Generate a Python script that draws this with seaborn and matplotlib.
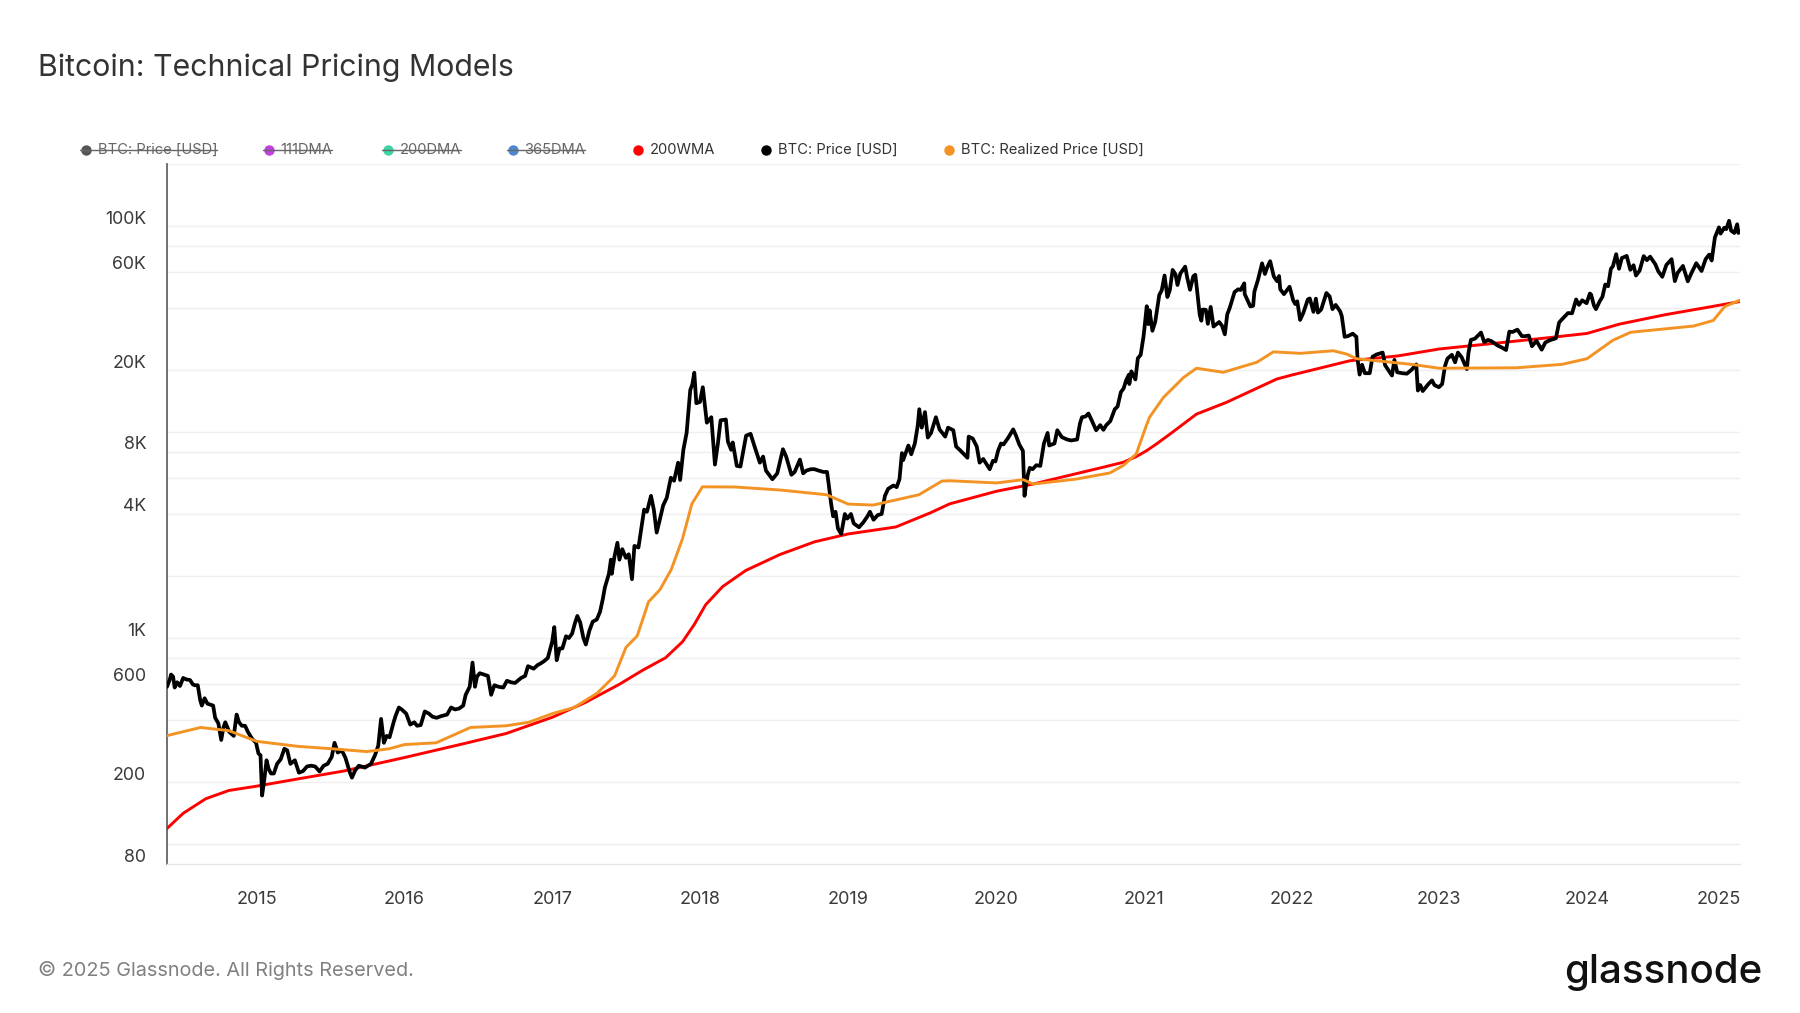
import matplotlib
matplotlib.use("Agg")
import matplotlib.pyplot as plt
import seaborn as sns
import pandas as pd
from matplotlib.lines import Line2D
from matplotlib.transforms import ScaledTranslation
import matplotlib.dates as mdates
import matplotlib.ticker as mticker

sns.set_theme(style="white")
plt.rcParams['font.family'] = ['Inter', 'DejaVu Sans']

# ---------------- data: BTC price ----------------
price_2014 = [("2014-05-24", 580), ("2014-05-31", 630), ("2014-06-03", 665), ("2014-06-08", 650),
              ("2014-06-12", 575), ("2014-06-18", 610), ("2014-06-25", 585), ("2014-07-03", 640),
              ("2014-07-10", 630), ("2014-07-20", 625), ("2014-07-27", 595), ("2014-08-01", 590),
              ("2014-08-08", 590), ("2014-08-14", 500), ("2014-08-18", 470), ("2014-08-25", 510),
              ("2014-09-01", 480), ("2014-09-08", 475), ("2014-09-15", 470), ("2014-09-20", 410),
              ("2014-09-28", 385), ("2014-10-05", 320), ("2014-10-10", 365), ("2014-10-15", 390),
              ("2014-10-25", 350), ("2014-11-05", 335), ("2014-11-12", 425), ("2014-11-18", 390),
              ("2014-11-25", 375), ("2014-12-03", 375), ("2014-12-10", 350), ("2014-12-20", 325),
              ("2014-12-30", 310)]
price_2015 = [("2015-01-05", 275), ("2015-01-10", 270), ("2015-01-14", 172), ("2015-01-20", 210),
              ("2015-01-25", 255), ("2015-01-30", 232), ("2015-02-05", 220), ("2015-02-12", 220),
              ("2015-02-20", 245), ("2015-03-01", 258), ("2015-03-10", 290), ("2015-03-17", 285),
              ("2015-03-25", 245), ("2015-04-05", 255), ("2015-04-15", 222), ("2015-04-25", 226),
              ("2015-05-05", 238), ("2015-05-15", 240), ("2015-05-25", 238), ("2015-06-05", 225),
              ("2015-06-15", 240), ("2015-06-25", 245), ("2015-07-05", 265), ("2015-07-12", 310),
              ("2015-07-20", 278), ("2015-07-30", 285), ("2015-08-08", 262), ("2015-08-18", 225),
              ("2015-08-24", 210), ("2015-09-01", 228), ("2015-09-10", 240), ("2015-09-25", 235),
              ("2015-10-10", 245), ("2015-10-20", 270), ("2015-10-28", 300), ("2015-11-04", 405),
              ("2015-11-11", 310), ("2015-11-18", 335), ("2015-11-25", 330), ("2015-12-05", 390),
              ("2015-12-10", 420), ("2015-12-18", 460), ("2015-12-25", 450)]
price_2016 = [("2016-01-05", 430), ("2016-01-15", 380), ("2016-01-25", 390), ("2016-02-01", 375),
              ("2016-02-10", 378), ("2016-02-20", 440), ("2016-03-01", 430), ("2016-03-10", 415),
              ("2016-03-20", 410), ("2016-04-01", 418), ("2016-04-15", 425), ("2016-04-25", 460),
              ("2016-05-05", 450), ("2016-05-15", 455), ("2016-05-25", 470), ("2016-05-31", 530),
              ("2016-06-10", 580), ("2016-06-17", 760), ("2016-06-23", 580), ("2016-06-28", 650),
              ("2016-07-05", 675), ("2016-07-15", 665), ("2016-07-25", 655), ("2016-08-02", 530),
              ("2016-08-10", 590), ("2016-08-20", 580), ("2016-09-01", 575), ("2016-09-10", 620),
              ("2016-09-20", 610), ("2016-09-30", 605), ("2016-10-15", 640), ("2016-10-25", 655),
              ("2016-11-01", 730), ("2016-11-15", 710), ("2016-11-25", 740), ("2016-12-01", 750),
              ("2016-12-10", 770), ("2016-12-20", 800), ("2016-12-31", 965)]
price_2017 = [("2017-01-05", 1130), ("2017-01-11", 780), ("2017-01-18", 890), ("2017-01-25", 890),
              ("2017-02-03", 1020), ("2017-02-10", 1000), ("2017-02-18", 1050), ("2017-02-25", 1180),
              ("2017-03-03", 1280), ("2017-03-10", 1190), ("2017-03-18", 1000), ("2017-03-24", 930),
              ("2017-04-02", 1090), ("2017-04-10", 1200), ("2017-04-20", 1230), ("2017-04-28", 1340),
              ("2017-05-05", 1550), ("2017-05-10", 1760), ("2017-05-20", 2050), ("2017-05-25", 2400),
              ("2017-05-27", 2050), ("2017-06-03", 2500), ("2017-06-10", 2900), ("2017-06-15", 2400),
              ("2017-06-22", 2700), ("2017-07-01", 2450), ("2017-07-08", 2550), ("2017-07-16", 1930),
              ("2017-07-22", 2800), ("2017-08-01", 2750), ("2017-08-08", 3400), ("2017-08-15", 4200),
              ("2017-08-22", 4100), ("2017-09-01", 4900), ("2017-09-08", 4200), ("2017-09-15", 3250),
              ("2017-09-22", 3700), ("2017-10-01", 4400), ("2017-10-10", 4800), ("2017-10-20", 6000),
              ("2017-10-28", 5800), ("2017-11-07", 7100), ("2017-11-12", 5850), ("2017-11-20", 8200),
              ("2017-11-28", 9900), ("2017-12-07", 16000), ("2017-12-12", 17000), ("2017-12-17", 19400),
              ("2017-12-22", 13800), ("2017-12-31", 14000)]
price_2018 = [("2018-01-07", 16500), ("2018-01-12", 13600), ("2018-01-17", 11100), ("2018-01-28", 11800),
              ("2018-02-02", 8800), ("2018-02-06", 6950), ("2018-02-13", 8700), ("2018-02-20", 11400),
              ("2018-03-05", 11500), ("2018-03-10", 9000), ("2018-03-18", 8200), ("2018-03-22", 8900),
              ("2018-04-01", 6850), ("2018-04-10", 6800), ("2018-04-24", 9600), ("2018-05-05", 9800),
              ("2018-05-15", 8500), ("2018-05-28", 7100), ("2018-06-05", 7600), ("2018-06-12", 6500),
              ("2018-06-28", 5900), ("2018-07-10", 6300), ("2018-07-24", 8250), ("2018-08-01", 7600),
              ("2018-08-14", 6200), ("2018-08-22", 6400), ("2018-09-04", 7350), ("2018-09-12", 6300),
              ("2018-09-20", 6500), ("2018-10-01", 6600), ("2018-10-10", 6600), ("2018-10-20", 6500),
              ("2018-11-01", 6400), ("2018-11-10", 6400), ("2018-11-14", 5600), ("2018-11-20", 4500),
              ("2018-11-25", 3900), ("2018-12-01", 4100), ("2018-12-07", 3400), ("2018-12-15", 3200),
              ("2018-12-24", 4000), ("2018-12-30", 3800)]
price_2019 = [("2019-01-08", 4000), ("2019-01-15", 3600), ("2019-01-28", 3450), ("2019-02-08", 3650),
              ("2019-02-18", 3900), ("2019-02-24", 4100), ("2019-03-05", 3750), ("2019-03-15", 3950),
              ("2019-03-25", 4000), ("2019-04-02", 4900), ("2019-04-10", 5300), ("2019-04-23", 5500),
              ("2019-05-01", 5400), ("2019-05-08", 5900), ("2019-05-14", 7900), ("2019-05-17", 7300),
              ("2019-05-30", 8600), ("2019-06-06", 7800), ("2019-06-15", 8800), ("2019-06-22", 10700),
              ("2019-06-26", 12900), ("2019-07-02", 10500), ("2019-07-10", 12500), ("2019-07-17", 9400),
              ("2019-07-25", 9900), ("2019-08-06", 11800), ("2019-08-15", 10300), ("2019-08-29", 9500),
              ("2019-09-05", 10500), ("2019-09-18", 10200), ("2019-09-25", 8500), ("2019-10-05", 8150),
              ("2019-10-23", 7500), ("2019-10-26", 9500), ("2019-11-05", 9300), ("2019-11-15", 8500),
              ("2019-11-22", 7100), ("2019-12-01", 7400), ("2019-12-17", 6600), ("2019-12-25", 7250),
              ("2019-12-31", 7200)]
price_2020 = [("2020-01-07", 8150), ("2020-01-14", 8800), ("2020-01-20", 8700), ("2020-02-01", 9400),
              ("2020-02-13", 10300), ("2020-02-20", 9600), ("2020-02-28", 8700), ("2020-03-08", 8100),
              ("2020-03-12", 4900), ("2020-03-15", 5400), ("2020-03-20", 6200), ("2020-03-25", 6700),
              ("2020-04-01", 6600), ("2020-04-10", 6900), ("2020-04-20", 6850), ("2020-04-29", 8800),
              ("2020-05-08", 9900), ("2020-05-12", 8600), ("2020-05-25", 8800), ("2020-06-01", 10200),
              ("2020-06-12", 9450), ("2020-06-25", 9200), ("2020-07-05", 9100), ("2020-07-20", 9200),
              ("2020-07-27", 11000), ("2020-08-01", 11800), ("2020-08-10", 11900), ("2020-08-17", 12300),
              ("2020-08-25", 11400), ("2020-09-05", 10200), ("2020-09-15", 10800), ("2020-09-23", 10250),
              ("2020-09-30", 10800), ("2020-10-10", 11300), ("2020-10-21", 12900), ("2020-10-28", 13300),
              ("2020-11-05", 15600), ("2020-11-12", 16300), ("2020-11-18", 17800), ("2020-11-25", 19000),
              ("2020-11-26", 17100), ("2020-12-01", 19700), ("2020-12-11", 18000), ("2020-12-17", 22800),
              ("2020-12-24", 23700), ("2020-12-31", 29000)]
price_2021 = [("2021-01-03", 32800), ("2021-01-08", 40800), ("2021-01-12", 33400), ("2021-01-15", 39000),
              ("2021-01-22", 31000), ("2021-01-29", 34300), ("2021-02-08", 46300), ("2021-02-14", 48700),
              ("2021-02-21", 57500), ("2021-02-28", 45200), ("2021-03-06", 48800), ("2021-03-13", 61200),
              ("2021-03-20", 58300), ("2021-03-25", 51700), ("2021-04-01", 58800), ("2021-04-13", 63500),
              ("2021-04-18", 56200), ("2021-04-25", 49000), ("2021-05-03", 57000), ("2021-05-08", 58000),
              ("2021-05-12", 49500), ("2021-05-19", 37000), ("2021-05-23", 34700), ("2021-05-26", 39300),
              ("2021-06-03", 39200), ("2021-06-08", 33500), ("2021-06-15", 40500), ("2021-06-22", 32500),
              ("2021-07-06", 34200), ("2021-07-13", 32800), ("2021-07-20", 29800), ("2021-07-26", 37300),
              ("2021-08-01", 40000), ("2021-08-13", 47800), ("2021-08-22", 49300), ("2021-08-28", 48900),
              ("2021-09-06", 52700), ("2021-09-07", 46800), ("2021-09-21", 40700), ("2021-09-28", 41000),
              ("2021-10-01", 48000), ("2021-10-10", 54900), ("2021-10-20", 65900), ("2021-10-27", 58500),
              ("2021-11-02", 63200), ("2021-11-09", 67500), ("2021-11-18", 56900), ("2021-11-26", 54000),
              ("2021-12-01", 57200), ("2021-12-04", 49300), ("2021-12-13", 46700), ("2021-12-27", 50700)]
price_2022 = [("2022-01-05", 43500), ("2022-01-10", 41800), ("2022-01-15", 43100), ("2022-01-22", 35000),
              ("2022-01-30", 37900), ("2022-02-10", 44000), ("2022-02-15", 44500), ("2022-02-24", 38300),
              ("2022-03-02", 44400), ("2022-03-07", 38000), ("2022-03-15", 39300), ("2022-03-28", 47300),
              ("2022-04-05", 45500), ("2022-04-12", 39500), ("2022-04-20", 41400), ("2022-05-01", 38500),
              ("2022-05-05", 36500), ("2022-05-12", 29000), ("2022-05-20", 29200), ("2022-06-01", 30000),
              ("2022-06-10", 29000), ("2022-06-13", 22500), ("2022-06-18", 19000), ("2022-06-24", 21200),
              ("2022-07-01", 19300), ("2022-07-13", 19300), ("2022-07-20", 23200), ("2022-07-30", 23800),
              ("2022-08-14", 24300), ("2022-08-20", 21100), ("2022-09-06", 18800), ("2022-09-12", 22400),
              ("2022-09-19", 19500), ("2022-10-01", 19300), ("2022-10-13", 19200), ("2022-10-25", 20100),
              ("2022-11-05", 21300), ("2022-11-09", 15900), ("2022-11-15", 16900), ("2022-11-21", 15800),
              ("2022-12-05", 17100), ("2022-12-14", 17800), ("2022-12-20", 16900), ("2022-12-31", 16500)]
price_2023 = [("2023-01-08", 17100), ("2023-01-15", 20900), ("2023-01-21", 22700), ("2023-02-01", 23700),
              ("2023-02-09", 21800), ("2023-02-16", 24300), ("2023-02-25", 23100), ("2023-03-10", 20200),
              ("2023-03-14", 24200), ("2023-03-20", 28000), ("2023-03-30", 28400), ("2023-04-14", 30400),
              ("2023-04-22", 27300), ("2023-05-01", 28000), ("2023-05-10", 27600), ("2023-05-25", 26300),
              ("2023-06-05", 25700), ("2023-06-15", 25000), ("2023-06-23", 30700), ("2023-07-01", 30600),
              ("2023-07-13", 31400), ("2023-07-24", 29200), ("2023-08-01", 29200), ("2023-08-10", 29400),
              ("2023-08-18", 26100), ("2023-08-29", 27700), ("2023-09-11", 25100), ("2023-09-20", 27200),
              ("2023-10-01", 27900), ("2023-10-16", 28500), ("2023-10-24", 34000), ("2023-11-01", 35400),
              ("2023-11-15", 37800), ("2023-11-25", 37700), ("2023-12-05", 44000), ("2023-12-12", 41400),
              ("2023-12-20", 43600), ("2023-12-31", 42200)]
price_2024 = [("2024-01-08", 47000), ("2024-01-11", 46500), ("2024-01-18", 41200), ("2024-01-23", 39500),
              ("2024-02-01", 43000), ("2024-02-08", 45300), ("2024-02-15", 52000), ("2024-02-22", 51000),
              ("2024-02-29", 62000), ("2024-03-05", 63800), ("2024-03-13", 73000), ("2024-03-20", 62000),
              ("2024-03-27", 69900), ("2024-04-08", 71600), ("2024-04-17", 61300), ("2024-04-25", 64500),
              ("2024-05-01", 57500), ("2024-05-10", 60800), ("2024-05-20", 71400), ("2024-05-28", 68300),
              ("2024-06-05", 71000), ("2024-06-18", 65100), ("2024-06-25", 60300), ("2024-07-05", 56700),
              ("2024-07-15", 64700), ("2024-07-28", 69000), ("2024-08-05", 54000), ("2024-08-12", 59300),
              ("2024-08-25", 64000), ("2024-09-06", 53900), ("2024-09-15", 59100), ("2024-09-27", 66000),
              ("2024-10-10", 60500), ("2024-10-20", 69000), ("2024-10-29", 72700), ("2024-11-04", 68000),
              ("2024-11-12", 88000), ("2024-11-22", 98500), ("2024-11-26", 91900), ("2024-12-05", 98000),
              ("2024-12-10", 96600), ("2024-12-17", 106000), ("2024-12-22", 95000), ("2024-12-30", 92500)]
price_2025 = [("2025-01-06", 102000), ("2025-01-09", 92500), ("2025-01-13", 94500)]

# 200-week moving average
wma_dates = [
    "2014-05-24", "2014-07-03", "2014-08-28", "2014-10-24", "2015-01-01", "2015-04-12", "2015-08-03",
    "2016-01-01", "2016-05-17", "2016-09-08", "2017-01-01", "2017-03-23", "2017-06-16", "2017-08-11",
    "2017-10-07", "2017-11-18", "2017-12-17", "2018-01-14", "2018-02-25", "2018-04-23", "2018-07-17",
    "2018-10-10", "2019-01-01", "2019-04-29", "2019-07-23", "2019-09-09", "2020-01-03", "2020-04-02",
    "2020-07-18", "2020-09-20", "2020-11-11", "2020-12-13", "2021-01-07", "2021-02-01", "2021-03-10",
    "2021-05-11", "2021-07-24", "2021-11-25", "2022-01-01", "2022-05-25", "2022-09-20", "2023-01-01",
    "2023-05-13", "2023-09-28", "2024-01-01", "2024-03-21", "2024-07-12", "2024-11-03", "2025-01-13",
]
wma_vals = [
    119, 141, 166, 182, 191, 207, 226, 263, 304, 344, 413, 487, 598, 697, 802, 960, 1164, 1450,
    1777, 2127, 2545, 2930, 3200, 3460, 4050, 4480, 5160, 5590, 6280, 6730, 7130, 7600, 8100,
    8750, 9890, 12220, 13930, 18070, 18900, 22180, 23400, 25300, 26900, 28700, 30100, 33400,
    37100, 40600, 43000,
]

# realized price
realized_dates = [
    "2014-05-24", "2014-08-15", "2014-10-24", "2015-01-01", "2015-04-12", "2015-07-06", "2015-09-29",
    "2015-11-24", "2016-01-01", "2016-03-19", "2016-06-12", "2016-09-08", "2016-11-03", "2017-01-01",
    "2017-02-23", "2017-04-21", "2017-06-03", "2017-07-01", "2017-07-29", "2017-08-26", "2017-09-23",
    "2017-10-21", "2017-11-18", "2017-12-11", "2018-01-06", "2018-03-26", "2018-07-17", "2018-11-09",
    "2019-01-01", "2019-03-04", "2019-06-25", "2019-08-21", "2019-09-09", "2020-01-03", "2020-03-09",
    "2020-04-02", "2020-07-18", "2020-10-09", "2020-11-11", "2020-12-13", "2021-01-07", "2021-01-15",
    "2021-02-18", "2021-04-09", "2021-05-11", "2021-07-16", "2021-10-07", "2021-11-17", "2022-01-22",
    "2022-04-14", "2022-05-17", "2022-06-10", "2022-10-25", "2023-01-01", "2023-07-10", "2023-10-31",
    "2024-01-01", "2024-03-05", "2024-04-18", "2024-09-21", "2024-11-08", "2024-12-06", "2025-01-13",
]
realized_vals = [
    336, 368, 355, 315, 298, 290, 281, 290, 304, 310, 368, 375, 390, 430, 460, 540, 655, 900, 1025,
    1500, 1715, 2150, 3040, 4480, 5420, 5410, 5230, 4960, 4470, 4420, 4960, 5780, 5800, 5660, 5870,
    5590, 5910, 6330, 6880, 7820, 10750, 11800, 14700, 18400, 20400, 19500, 21800, 24500, 24100,
    24800, 23900, 22700, 21300, 20400, 20500, 21300, 22700, 27900, 30500, 32700, 34800, 40600, 43700,
]

ytick_vals = [80, 200, 600, 1000, 4000, 8000, 20000, 60000, 100000]
ytick_labels = ["80", "200", "600", "1K", "4K", "8K", "20K", "60K", "100K"]
ygrid_vals = [100, 200, 400, 600, 800, 1000, 2000, 4000, 6000, 8000, 10000, 20000, 40000,
              60000, 80000, 100000, 200000]
years = list(range(2015, 2026))

legend_labels = ["BTC: Price [USD]", "111DMA", "200DMA", "365DMA", "200WMA",
                 "BTC: Price [USD]", "BTC: Realized Price [USD]"]
legend_colors = ["#555555", "#c23fe0", "#3fd3a6", "#4f86d0", "#ff0000", "#000000", "#f39324"]
legend_hidden = [True, True, True, True, False, False, False]

# ---------------- figure ----------------
W, H = 1800, 1013
fig = plt.figure(figsize=(18, 10.13), dpi=100)
fig.patch.set_facecolor("white")
ax = fig.add_axes([167 / W, 1 - 864 / H, (1740 - 167) / W, (864 - 164) / H])

price_all = price_2014 + price_2015 + price_2016 + price_2017 + price_2018 + price_2019 + \
    price_2020 + price_2021 + price_2022 + price_2023 + price_2024 + price_2025
df_p = pd.DataFrame(price_all, columns=["date", "v"])
df_p["date"] = pd.to_datetime(df_p["date"])
df_w = pd.DataFrame({"date": pd.to_datetime(wma_dates), "v": wma_vals})
df_r = pd.DataFrame({"date": pd.to_datetime(realized_dates), "v": realized_vals})

sns.lineplot(data=df_w, x="date", y="v", ax=ax, color="#ff0000", lw=2.1, zorder=3, estimator=None)
sns.lineplot(data=df_p, x="date", y="v", ax=ax, color="#000000", lw=2.7, zorder=4, estimator=None)
sns.lineplot(data=df_r, x="date", y="v", ax=ax, color="#f39324", lw=2.1, zorder=5, estimator=None)

ax.set_yscale("log")
ax.set_ylim(80, 200000)
ax.set_xlim(pd.Timestamp("2014-05-24"), pd.Timestamp("2025-01-13"))
ax.set_xlabel("")
ax.set_ylabel("")

ax.yaxis.set_major_locator(mticker.FixedLocator(ytick_vals))
ax.yaxis.set_major_formatter(mticker.FixedFormatter(ytick_labels))
ax.yaxis.set_minor_locator(mticker.FixedLocator(ygrid_vals))
ax.yaxis.set_minor_formatter(mticker.NullFormatter())
ax.yaxis.remove_overlapping_locs = False
ax.grid(False)
ax.grid(which="minor", axis="y", color="#efefef", lw=1.0, zorder=0)
ax.tick_params(axis="y", which="both", length=0, pad=15, labelsize=12.8, labelcolor="#3a3a3a")

ax.xaxis.set_major_locator(mticker.FixedLocator(
    [mdates.date2num(pd.Timestamp(f"{y}-01-01")) for y in years]))
ax.xaxis.set_major_formatter(mticker.FixedFormatter([str(y) for y in years]))
ax.tick_params(axis="x", which="major", length=12, width=1, color="#e6e6e6", pad=7.5,
               labelsize=13, labelcolor="#3a3a3a")
ax.tick_params(axis="x", which="minor", length=0)

for lab in ax.get_yticklabels():
    lab.set_transform(lab.get_transform() + ScaledTranslation(0, 9 / 100, fig.dpi_scale_trans))
xl = ax.get_xticklabels()
xl[-1].set_transform(xl[-1].get_transform() + ScaledTranslation(-16 / 100, 0, fig.dpi_scale_trans))

for s in ["top", "right"]:
    ax.spines[s].set_visible(False)
ax.spines["left"].set_color("#666666")
ax.spines["left"].set_linewidth(1.3)
ax.spines["bottom"].set_color("#e6e6e6")
ax.spines["bottom"].set_linewidth(1.0)

# title
fig.text(38 / W, 1 - 67.5 / H, "Bitcoin: Technical Pricing Models", fontsize=21.8, color="#333333",
         ha="left", va="center")

# legend
legend_x = [86, 269, 388, 513, 638, 766, 949]
ly = 1 - 150 / H
texts = []
for lab, col, off, x in zip(legend_labels, legend_colors, legend_hidden, legend_x):
    fig.add_artist(Line2D([x / W], [ly], marker="o", markersize=7.5, color=col, markeredgewidth=0,
                          transform=fig.transFigure, linestyle="none"))
    t = fig.text((x + 11.5) / W, ly, lab, fontsize=10.6, color="#666666" if off else "#333333",
                 ha="left", va="center")
    texts.append((t, off, x))

fig.canvas.draw()
r = fig.canvas.get_renderer()
for t, off, x in texts:
    if off:
        bb = t.get_window_extent(r)
        fig.add_artist(Line2D([(x - 6) / W, bb.x1 / W], [ly, ly], color="#666666", lw=1.0,
                              transform=fig.transFigure))

# footer
fig.text(38 / W, 1 - 970.5 / H, "\u00a9 2025 Glassnode. All Rights Reserved.", fontsize=14.3,
         color="#808080", ha="left", va="center")
fig.text(1762 / W, 1 - 972 / H, "glassnode", fontsize=29, color="#111111", ha="right", va="center",
         fontweight="medium")

fig.savefig("out.png", dpi=100, facecolor="white")
